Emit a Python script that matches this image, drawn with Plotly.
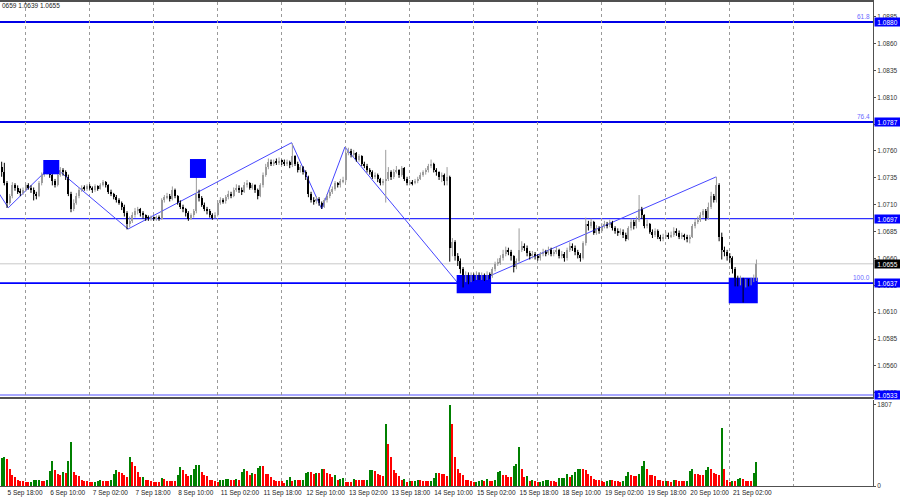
import plotly.graph_objects as go

# ---------------- data ----------------
PIP = 0.0001
BASE = 1.0600  # prices below are stored as pips above this base

x_labels = ["5 Sep 18:00", "6 Sep 10:00", "7 Sep 02:00", "7 Sep 18:00", "8 Sep 10:00",
            "11 Sep 02:00", "11 Sep 18:00", "12 Sep 10:00", "13 Sep 02:00", "13 Sep 18:00",
            "14 Sep 10:00", "15 Sep 02:00", "15 Sep 18:00", "18 Sep 10:00", "19 Sep 02:00",
            "19 Sep 18:00", "20 Sep 10:00", "21 Sep 02:00"]
label_bars = [2, 18, 34, 50, 66, 82, 98, 114, 130, 146, 162, 178, 194, 210, 226, 242, 258, 274]
day_bars = [8.75, 32.75, 56.75, 80.75, 104.75, 128.75, 152.75, 176.75, 200.75, 224.75,
            248.75, 272.75, 296.75]

open_pips = [145,140,130,112,118,128,126,122,121,124,
128,126,124,120,118,130,138,140,145,138,
132,128,138,142,140,136,120,106,112,118,
124,126,125,127,126,124,127,125,128,131,
128,122,120,117,114,112,108,102,92,95,
100,104,106,102,100,98,97,98,97,98,
97,114,117,118,115,124,118,112,108,106,
102,97,100,104,120,116,110,106,104,100,
98,100,112,114,113,117,120,118,124,126,
124,122,128,130,126,128,124,118,128,138,
145,150,148,150,149,151,150,148,150,147,
155,148,142,145,140,136,120,114,113,115,
112,108,114,118,122,125,130,128,132,133,
158,160,156,158,152,155,148,146,142,140,
136,138,134,130,132,134,140,136,140,142,
138,144,134,130,131,130,132,134,138,140,
142,146,148,142,140,136,138,132,136,70,
75,62,58,50,42,45,40,44,42,45,
43,44,42,45,44,50,55,56,60,64,
68,66,62,52,58,68,72,70,65,62,
64,62,60,64,66,65,68,64,66,68,
62,64,60,68,72,70,66,63,60,74,
92,90,94,84,88,86,90,92,91,94,
88,86,84,85,82,78,88,94,90,96,
106,100,90,92,85,82,86,80,78,80,
82,80,82,86,84,80,82,80,78,80,
90,94,96,100,104,98,108,118,114,128,
80,68,66,62,60,50,40,38,40,36,
38,37,40,42]

high_pips = [150,149,132,120,131,130,128,125,126,130,
130,128,126,122,132,140,143,149,148,141,
134,140,145,144,142,138,122,115,121,126,
128,128,129,129,127,129,128,130,133,132,
129,124,121,119,116,113,110,104,99,103,
107,108,107,104,101,100,100,99,100,100,
116,119,121,120,127,125,119,114,110,107,
104,102,106,150,124,118,112,108,106,102,
103,114,117,116,119,123,122,126,129,128,
126,131,133,131,130,129,125,130,140,148,
153,152,152,153,154,152,152,152,151,167,
156,150,147,146,142,137,122,117,118,117,
113,116,120,124,127,132,131,134,136,164,
163,162,161,159,157,156,150,148,144,142,
140,139,135,134,161,145,142,143,146,143,
146,145,136,133,133,134,136,140,142,144,
148,152,149,144,141,140,139,145,137,79,
77,65,60,52,48,47,47,46,48,47,
47,46,48,47,52,57,60,63,68,71,
70,68,63,60,88,76,74,72,67,67,
66,64,66,69,68,71,70,68,71,69,
67,66,70,75,74,72,68,65,76,98,
95,97,95,91,90,93,95,94,96,95,
90,88,88,87,84,90,97,96,99,119,
108,101,96,93,87,88,87,82,83,85,
84,85,89,88,86,84,83,82,82,92,
97,99,103,106,106,112,122,120,136,130,
84,71,68,65,62,52,44,44,42,41,
41,42,45,59]

low_pips = [136,128,107,110,116,123,120,118,119,122,
124,121,114,115,117,128,136,138,135,128,
126,127,136,137,133,118,103,104,110,116,
122,123,123,124,121,122,123,124,127,126,
120,118,115,112,110,105,99,87,89,93,
98,101,99,97,95,95,95,95,95,95,
96,112,115,113,114,116,110,106,103,99,
95,96,98,102,113,108,104,101,98,96,
97,99,110,111,111,115,116,117,122,121,
119,121,126,124,124,121,115,117,126,136,
143,146,146,147,147,147,146,146,144,145,
146,140,140,138,133,117,112,110,111,109,
106,107,112,116,120,123,126,126,130,131,
156,154,154,150,150,146,144,140,138,134,
134,131,128,128,112,132,133,134,139,135,
136,132,128,128,128,129,130,133,136,138,
140,144,140,137,133,131,128,128,57,62,
58,53,46,33,38,36,38,39,40,40,
40,39,40,41,42,48,53,54,58,62,
63,58,47,50,56,66,67,62,59,60,
59,58,58,62,62,63,62,62,64,60,
60,57,58,66,67,63,60,57,59,72,
86,88,82,82,83,84,88,88,89,86,
83,81,82,79,76,77,86,87,88,94,
97,88,88,83,79,80,78,76,76,78,
78,79,80,81,78,78,77,75,74,79,
88,92,94,98,95,96,106,112,112,76,
59,62,58,56,46,34,34,35,19,33,
34,35,38,39]

close_pips = [140,130,112,118,128,126,122,121,124,128,
126,124,120,118,130,138,140,145,138,132,
128,138,142,140,136,120,106,112,118,124,
126,125,127,126,124,127,125,128,131,128,
122,120,117,114,112,108,102,92,95,100,
104,106,102,100,98,97,98,97,98,97,
114,117,118,115,124,118,112,108,106,102,
97,100,104,120,116,110,106,104,100,98,
100,112,114,113,117,120,118,124,126,124,
122,128,130,126,128,124,118,128,138,145,
150,148,150,149,151,150,148,150,147,155,
148,142,145,140,136,120,114,113,115,112,
108,114,118,122,125,130,128,132,133,158,
160,156,158,152,155,148,146,142,140,136,
138,134,130,132,134,140,136,140,142,138,
144,134,130,131,130,132,134,138,140,142,
146,148,142,140,136,138,132,136,70,75,
62,58,50,42,45,40,44,42,45,43,
44,42,45,44,50,55,56,60,64,68,
66,62,52,58,68,72,70,65,62,64,
62,60,64,66,65,68,64,66,68,62,
64,60,68,72,70,66,63,60,74,92,
90,94,84,88,86,90,92,91,94,88,
86,84,85,82,78,88,94,90,96,106,
100,90,92,85,82,86,80,78,80,82,
80,82,86,84,80,82,80,78,80,90,
94,96,100,104,98,108,118,114,128,80,
68,66,62,60,50,40,38,40,36,38,
37,40,42,55]

volume = [618,655,603,379,238,193,134,119,119,89,
82,97,126,134,140,119,119,134,335,558,
350,268,253,305,298,558,975,320,238,223,
134,119,119,97,89,97,112,134,112,112,
112,134,275,357,305,298,246,208,640,536,
446,312,193,208,134,134,112,89,89,89,
171,164,112,112,112,112,246,432,357,268,
223,246,372,469,476,320,246,223,134,134,
112,89,126,134,149,156,134,134,149,134,
320,372,335,246,283,260,409,446,446,260,
260,193,134,119,112,104,74,126,208,119,
126,126,126,134,290,312,312,260,298,283,
387,387,298,268,208,246,134,156,171,97,
89,89,149,134,126,126,126,134,350,357,
342,268,253,223,1376,930,640,357,298,223,
134,164,97,112,112,119,134,134,112,112,
112,119,171,298,298,268,268,223,1807,
1376,655,372,283,238,134,134,112,89,97,
112,134,119,149,112,112,134,312,327,246,
238,208,201,446,491,863,387,208,223,119,
134,119,89,97,119,126,134,112,112,89,
175,180,186,260,193,246,320,372,387,372,
357,260,223,149,134,134,112,89,112,126,
126,112,112,89,104,223,305,246,223,223,
268,446,558,387,253,238,223,134,134,104,
112,112,82,134,134,119,112,104,112,335,
387,268,260,246,246,357,417,387,283,260,
238,1287,372,134,89,119,119,149,171,149,
119,112,112,283,536]

volume_max_label = 1807

level_prices = [1.0880, 1.0787, 1.0697, 1.0637, 1.0533]
fib_prices = [1.0880, 1.0787, 1.0637]
fib_texts = ["61.8", "76.4", "100.0"]

zigzag_bars = [-3, 2.5, 18.9, 47.4, 108.7, 120.0, 128.7, 172.6, 267.8]
zigzag_prices = [1.07281, 1.07072, 1.07470, 1.06874, 1.07677, 1.07060, 1.07637, 1.06325, 1.07358]

zone_bar_start = [15.6, 70.6, 170.6, 272.6]
zone_bar_end = [21.6, 76.6, 183.5, 283.5]
zone_low = [1.07383, 1.07349, 1.06276, 1.06183]
zone_high = [1.07516, 1.07525, 1.06446, 1.06421]

price_ticks = [1.0535, 1.0560, 1.0585, 1.0610, 1.0635, 1.0660, 1.0685, 1.0710,
               1.0735, 1.0760, 1.0785, 1.0810, 1.0835, 1.0860, 1.0885]

header_text = "0659 1.0639 1.0655"

# ---------------- styling ----------------
FONT = "Liberation Sans, Arial, sans-serif"
FS = 6.5
UP_COL = "#9c9c9c"
DN_COL = "#000000"
level_styles = [("#0000e6", 2), ("#0000e6", 2), ("#3030ff", 1.3), ("#0000ff", 1.8), ("#a8a8ff", 2)]
zone_on_top = [True, True, False, False]

n = len(close_pips)
bars = list(range(n))
O = [BASE + v * PIP for v in open_pips]
H = [BASE + v * PIP for v in high_pips]
L = [BASE + v * PIP for v in low_pips]
C = [BASE + v * PIP for v in close_pips]
up = [C[i] >= O[i] for i in range(n)]

fig = go.Figure()

# zigzag
fig.add_trace(go.Scatter(x=zigzag_bars, y=zigzag_prices, mode="lines",
                         line=dict(color="#4646ff", width=1), hoverinfo="skip"))


def add_zone(k):
    x0, x1 = zone_bar_start[k], zone_bar_end[k]
    y0, y1 = zone_low[k], zone_high[k]
    fig.add_trace(go.Scatter(x=[x0, x1, x1, x0, x0], y=[y0, y0, y1, y1, y0], mode="lines",
                             fill="toself", fillcolor="#0000ff", line=dict(width=0, color="#0000ff"),
                             hoverinfo="skip"))


for k in range(len(zone_bar_start)):
    if not zone_on_top[k]:
        add_zone(k)

# wicks
for is_up, col in ((True, UP_COL), (False, DN_COL)):
    wx, wy = [], []
    for i in range(n):
        if up[i] == is_up:
            wx += [i, i, None]
            wy += [L[i], H[i], None]
    fig.add_trace(go.Scatter(x=wx, y=wy, mode="lines", line=dict(color=col, width=1),
                             hoverinfo="skip"))

# bodies
for is_up, col in ((True, UP_COL), (False, DN_COL)):
    bx, bb, bh = [], [], []
    for i in range(n):
        if up[i] == is_up:
            lo, hi = min(O[i], C[i]), max(O[i], C[i])
            bx.append(i)
            bb.append(lo)
            bh.append(max(hi - lo, 0.00006))
    fig.add_trace(go.Bar(x=bx, y=bh, base=bb, width=0.75, marker=dict(color=col, line=dict(width=0)),
                         hoverinfo="skip"))

for k in range(len(zone_bar_start)):
    if zone_on_top[k]:
        add_zone(k)

# volumes
vol_colors = ["#008000" if i == 0 or volume[i] > volume[i - 1] else "#ff0000" for i in range(n)]
fig.add_trace(go.Bar(x=bars, y=volume, width=0.75, marker=dict(color=vol_colors, line=dict(width=0)),
                     xaxis="x2", yaxis="y2", hoverinfo="skip"))

# horizontal levels
shapes = []
for p, (col, w) in zip(level_prices, level_styles):
    shapes.append(dict(type="line", xref="x domain", x0=0, x1=1, yref="y", y0=p, y1=p,
                       line=dict(color=col, width=w), layer="below"))
shapes.append(dict(type="line", xref="x domain", x0=0, x1=1, yref="y", y0=C[-1], y1=C[-1],
                   line=dict(color="#c8c8c8", width=1), layer="below"))

annotations = []
for p in level_prices:
    annotations.append(dict(xref="paper", x=1, xanchor="left", xshift=1, yref="y", y=p,
                            yanchor="middle", text=f"{p:.4f}", showarrow=False, bgcolor="#0000ff",
                            width=25, height=8, borderpad=0, align="center",
                            font=dict(family=FONT, size=FS, color="white")))
annotations.append(dict(xref="paper", x=1, xanchor="left", xshift=1, yref="y", y=C[-1],
                        yanchor="middle", text=f"{C[-1]:.4f}", showarrow=False, bgcolor="#000000",
                        width=25, height=8, borderpad=0, align="center",
                        font=dict(family=FONT, size=FS, color="white")))
for p, t in zip(fib_prices, fib_texts):
    annotations.append(dict(xref="paper", x=1, xanchor="right", xshift=-1, yref="y", y=p,
                            yanchor="bottom", text=t, showarrow=False,
                            font=dict(family=FONT, size=FS, color="#6a6aff")))
annotations.append(dict(xref="paper", x=0, xanchor="left", yref="paper", y=0.992, yanchor="middle",
                        text=header_text, showarrow=False,
                        font=dict(family=FONT, size=FS, color="#222222")))

minor_grid = dict(tickmode="array", tickvals=day_bars, showgrid=True, gridcolor="#9a9a9a",
                  griddash="dot", gridwidth=1, ticks="")
x_range = [-0.626, 326.7]

fig.update_layout(
    width=900, height=500,
    margin=dict(l=0, r=27, t=2, b=14, autoexpand=False),
    paper_bgcolor="white", plot_bgcolor="white",
    showlegend=False, barmode="overlay", bargap=0,
    font=dict(family=FONT, size=FS, color="#222222"),
    shapes=shapes, annotations=annotations,
    xaxis=dict(domain=[0, 1], anchor="y", range=x_range, showticklabels=False, ticks="",
               showgrid=False, zeroline=False, showline=True, linecolor="#505050", linewidth=2,
               mirror=True, minor=minor_grid, automargin=False),
    yaxis=dict(domain=[0.1839, 1], anchor="x", range=[1.05311, 1.08986], side="right",
               tickvals=price_ticks, ticktext=[f"{v:.4f}" for v in price_ticks],
               showgrid=False, zeroline=False, ticks="outside", ticklen=2, tickcolor="#505050",
               showline=True, linecolor="#505050", linewidth=1, automargin=False,
               tickfont=dict(family=FONT, size=FS, color="#333333")),
    xaxis2=dict(domain=[0, 1], anchor="y2", matches="x", range=x_range,
                tickvals=label_bars, ticktext=x_labels, ticklabelposition="outside right",
                tickangle=0, ticks="", showgrid=False, zeroline=False, showline=True,
                linecolor="#505050", linewidth=1, minor=minor_grid, automargin=False,
                tickfont=dict(family=FONT, size=FS, color="#222222")),
    yaxis2=dict(domain=[0, 0.1777], anchor="x2", range=[0, 1918], side="right",
                tickvals=[0, volume_max_label], ticktext=["0", str(volume_max_label)],
                showgrid=False, zeroline=False, ticks="outside", ticklen=2, tickcolor="#505050",
                showline=True, linecolor="#505050", linewidth=1, automargin=False,
                tickfont=dict(family=FONT, size=FS, color="#333333")),
)

fig.write_html("out.html", config={"displayModeBar": False},
               post_script="document.body.style.margin='0';document.body.style.overflow='hidden';")
